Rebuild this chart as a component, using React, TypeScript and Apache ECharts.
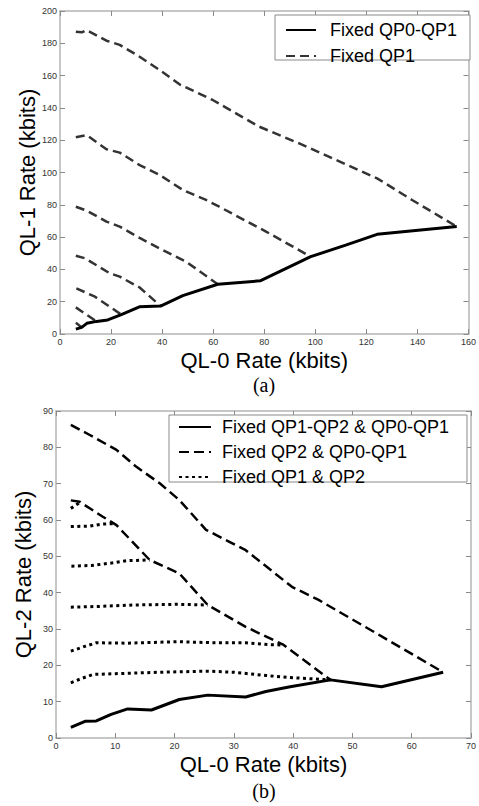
import React, { useEffect, useRef } from "react";
import * as echarts from "echarts";

// ---------- Chart (a): QL-1 vs QL-0 ----------
const aAxisXTicks = [0, 160, 20]; // min, max, interval
const aAxisYTicks = [0, 200, 20];

const aSolidX = [6.2, 8.5, 10.5, 14.3, 18.7, 24.0, 31.1, 39.4, 48.1, 61.8, 78.4, 98.2, 111.9, 124.2, 155.4];
const aSolidY = [3.0, 4.1, 6.6, 7.8, 8.7, 12.0, 16.8, 17.3, 23.8, 30.8, 32.9, 47.9, 55.0, 61.7, 66.5];

const aDash1X = [6.2, 8.5, 10.4, 18.2, 23.4, 31.2, 39.0, 46.8, 59.8, 78.0, 93.7, 106.7, 124.2, 137.9, 155.4];
const aDash1Y = [187.2, 186.8, 188.2, 181.6, 179.0, 171.7, 163.5, 154.6, 144.9, 128.4, 118.0, 108.8, 96.4, 83.0, 66.5];
const aDash2X = [6.2, 10.4, 18.2, 23.4, 31.2, 39.0, 48.1, 57.2, 62.4, 80.7, 98.2];
const aDash2Y = [121.8, 123.2, 114.4, 112.3, 104.6, 98.5, 89.2, 83.0, 78.8, 63.4, 47.9];
const aDash3X = [6.2, 10.4, 18.2, 23.4, 31.2, 39.0, 49.4, 61.8];
const aDash3Y = [78.8, 76.4, 69.6, 66.5, 59.5, 53.0, 44.8, 30.8];
const aDash4X = [6.2, 9.8, 19.5, 23.4, 31.2, 39.4];
const aDash4Y = [48.5, 46.9, 37.6, 35.5, 28.8, 17.3];
const aDash5X = [6.4, 13.7, 24.0];
const aDash5Y = [28.3, 23.1, 12.0];
const aDash6X = [6.2, 14.3];
const aDash6Y = [16.5, 7.8];
const aDash7X = [6.2, 8.5];
const aDash7Y = [7.0, 4.1];

// ---------- Chart (b): QL-2 vs QL-0 ----------
const bAxisXTicks = [0, 70, 10];
const bAxisYTicks = [0, 90, 10];

const bSolidX = [2.5, 4.9, 6.8, 9.3, 12.1, 16.1, 20.8, 25.6, 32.0, 35.4, 39.5, 46.3, 54.9, 65.3];
const bSolidY = [2.9, 4.6, 4.7, 6.5, 8.0, 7.7, 10.6, 11.8, 11.3, 12.8, 14.1, 16.0, 14.1, 18.1];

const bDashAX = [2.5, 5.7, 10.2, 13.5, 17.5, 20.8, 25.3, 32.0, 39.8, 44.3, 55.0, 65.3];
const bDashAY = [86.2, 83.4, 79.3, 74.7, 70.1, 65.5, 57.3, 51.7, 41.6, 38.0, 27.9, 18.1];
const bDashBX = [2.5, 4.0, 7.9, 10.2, 15.8, 20.8, 25.6, 32.0, 38.4, 46.3];
const bDashBY = [65.4, 65.0, 60.9, 58.6, 49.0, 45.3, 36.6, 30.6, 25.6, 16.0];

const bDot1X = [2.5, 4.0];
const bDot1Y = [63.2, 64.8];
const bDot2X = [2.5, 5.7, 7.9, 9.8];
const bDot2Y = [58.2, 58.3, 58.9, 59.0];
const bDot3X = [2.6, 6.0, 9.1, 12.0, 15.8];
const bDot3Y = [47.3, 47.5, 48.1, 48.8, 49.0];
const bDot4X = [2.5, 7.0, 12.9, 20.5, 25.6];
const bDot4Y = [36.0, 36.2, 36.6, 36.8, 36.6];
const bDot5X = [2.5, 5.0, 6.8, 12.0, 20.5, 27.0, 32.0, 36.0, 38.4];
const bDot5Y = [23.9, 25.3, 26.2, 26.1, 26.5, 26.2, 26.2, 25.7, 25.6];
const bDot6X = [2.5, 4.5, 6.3, 10.0, 17.5, 25.6, 30.0, 35.4, 40.0, 46.3];
const bDot6Y = [15.2, 16.5, 17.5, 17.7, 18.1, 18.4, 18.1, 17.2, 16.6, 16.0];

const aNames = ["Fixed QP0-QP1", "Fixed QP1"];
const bNames = ["Fixed QP1-QP2 & QP0-QP1", "Fixed QP2 & QP0-QP1", "Fixed QP1 & QP2"];

const zip = (xs: number[], ys: number[]) => xs.map((x, i) => [x, ys[i]]);

const FONT = "Liberation Sans";

function axesFor(grid: number, xt: number[], yt: number[], xName: string, yName: string) {
  const tick = { show: true, inside: true, length: 5, lineStyle: { color: "#8a8a8a", width: 1 } };
  const line = { show: true, onZero: false, lineStyle: { color: "#b4b4b4", width: 1.5 } };
  const label = { fontSize: 9, color: "#333", fontFamily: FONT };
  const xAxes = [
    {
      gridIndex: grid, type: "value", min: xt[0], max: xt[1], interval: xt[2], position: "bottom",
      axisLine: line, axisTick: tick, splitLine: { show: false },
      axisLabel: { ...label, margin: 3 },
      name: xName, nameLocation: "middle", nameGap: 15, nameMoveOverlap: false,
      nameTextStyle: { fontSize: 22, color: "#000", fontFamily: FONT },
    },
    {
      gridIndex: grid, type: "value", min: xt[0], max: xt[1], interval: xt[2], position: "top",
      axisLine: line, axisTick: tick, splitLine: { show: false }, axisLabel: { show: false },
    },
  ];
  const yAxes = [
    {
      gridIndex: grid, type: "value", min: yt[0], max: yt[1], interval: yt[2], position: "left",
      axisLine: line, axisTick: tick, splitLine: { show: false },
      axisLabel: { ...label, margin: 3 },
      name: yName, nameLocation: "middle", nameGap: 22, nameMoveOverlap: false,
      nameTextStyle: { fontSize: 22, color: "#000", fontFamily: FONT },
    },
    {
      gridIndex: grid, type: "value", min: yt[0], max: yt[1], interval: yt[2], position: "right",
      axisLine: line, axisTick: tick, splitLine: { show: false }, axisLabel: { show: false },
    },
  ];
  return { xAxes, yAxes };
}

export default function App() {
  const ref = useRef<HTMLDivElement>(null);
  useEffect(() => {
    if (!ref.current) return;
    const chart = echarts.init(ref.current, null, { renderer: "svg" });
    const A = axesFor(0, aAxisXTicks, aAxisYTicks, "QL-0 Rate (kbits)", "QL-1 Rate (kbits)");
    const B = axesFor(1, bAxisXTicks, bAxisYTicks, "QL-0 Rate (kbits)", "QL-2 Rate (kbits)");

    const solid = { color: "#000", width: 3, type: "solid" };
    const dashA = { color: "#333", width: 2.5, type: [9, 5] };
    const dashB = { color: "#000", width: 2.5, type: [10, 5] };
    const dot = { color: "#000", width: 3, type: [3, 3.5] };

    const mk = (name: string, data: number[][], ls: any, xi: number, yi: number, z: number) => ({
      type: "line", name, data, xAxisIndex: xi, yAxisIndex: yi, symbol: "none", showSymbol: false,
      lineStyle: ls, itemStyle: { color: ls.color }, color: ls.color, z,
      emphasis: { disabled: true }, silent: true,
    });

    const aDashes = [
      zip(aDash1X, aDash1Y), zip(aDash2X, aDash2Y), zip(aDash3X, aDash3Y), zip(aDash4X, aDash4Y),
      zip(aDash5X, aDash5Y), zip(aDash6X, aDash6Y), zip(aDash7X, aDash7Y),
    ];
    const bDots = [
      zip(bDot1X, bDot1Y), zip(bDot2X, bDot2Y), zip(bDot3X, bDot3Y),
      zip(bDot4X, bDot4Y), zip(bDot5X, bDot5Y), zip(bDot6X, bDot6Y),
    ];

    const series: any[] = [
      mk(aNames[0], zip(aSolidX, aSolidY), solid, 0, 0, 3),
      ...aDashes.map((d) => mk(aNames[1], d, dashA, 0, 0, 2)),
      mk(bNames[0], zip(bSolidX, bSolidY), solid, 2, 2, 3),
      mk(bNames[1], zip(bDashAX, bDashAY), dashB, 2, 2, 2),
      mk(bNames[1], zip(bDashBX, bDashBY), dashB, 2, 2, 2),
      ...bDots.map((d) => mk(bNames[2], d, dot, 2, 2, 2)),
    ];

    const legendText = { fontSize: 18, lineHeight: 16, color: "#000", fontFamily: FONT };

    chart.setOption({
      animation: false,
      backgroundColor: "#fff",
      grid: [
        { left: 60, top: 11, width: 410, height: 323 },
        { left: 56, top: 411, width: 417, height: 327 },
      ],
      xAxis: [...A.xAxes, ...B.xAxes],
      yAxis: [...A.yAxes, ...B.yAxes],
      legend: [
        {
          data: aNames, orient: "vertical", left: 285, top: 21, padding: 0,
          itemWidth: 30, itemHeight: 14, itemGap: 8, selectedMode: false, z: 5,
          itemStyle: { opacity: 0 },
          textStyle: { ...legendText, padding: [0, 0, 0, 9] },
        },
        {
          data: bNames, orient: "vertical", left: 178, top: 418, padding: 0,
          itemWidth: 32, itemHeight: 14, itemGap: 7, selectedMode: false, z: 5,
          itemStyle: { opacity: 0 },
          textStyle: { ...legendText, padding: [0, 0, 0, 6] },
        },
      ],
      graphic: [
        { type: "rect", z: 4, shape: { x: 275, y: 15, width: 195, height: 45 }, style: { fill: "#fff", stroke: "#8a8a8a", lineWidth: 1 } },
        { type: "rect", z: 4, shape: { x: 169, y: 415, width: 298, height: 67 }, style: { fill: "#fff", stroke: "#8a8a8a", lineWidth: 1 } },
        { type: "text", x: 264, y: 385, style: { text: "(a)", font: '20px "Liberation Serif"', fill: "#000", textAlign: "center", textVerticalAlign: "middle" } },
        { type: "text", x: 264, y: 791, style: { text: "(b)", font: '20px "Liberation Serif"', fill: "#000", textAlign: "center", textVerticalAlign: "middle" } },
      ],
      series,
    });
    return () => chart.dispose();
  }, []);
  return <div ref={ref} style={{ position: "absolute", left: 0, top: 0, width: 479, height: 806 }} />;
}
